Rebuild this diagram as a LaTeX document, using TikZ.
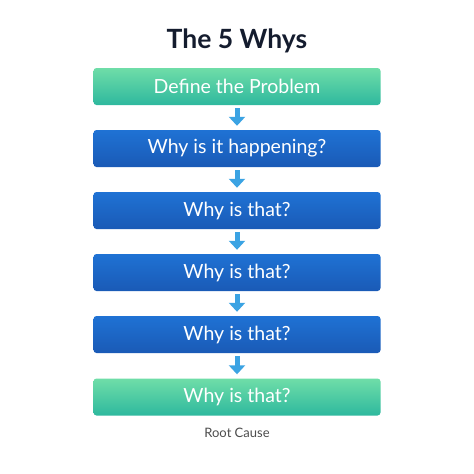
\documentclass[tikz,border=0pt]{standalone}
\usepackage{fontspec}
\setmainfont{Lato}
\usetikzlibrary{arrows.meta,positioning}
\definecolor{gtop}{HTML}{6FDDA8}
\definecolor{gbot}{HTML}{2EB89E}
\definecolor{btop}{HTML}{1F72D4}
\definecolor{bbot}{HTML}{1A5AB6}
\definecolor{arr}{HTML}{3BA3E3}
\definecolor{navy}{HTML}{141C2E}
\begin{document}
\begin{tikzpicture}[x=1pt,y=1pt,
  box/.style={minimum width=287pt,minimum height=37pt,rounded corners=3pt,inner sep=0pt,
    text=white,font=\fontsize{19.5}{22}\selectfont},
  greenbox/.style={box,top color=gtop,bottom color=gbot},
  bluebox/.style={box,top color=btop,bottom color=bbot},
  flow/.style={draw=arr,line width=5pt,-{Triangle[width=16pt,length=9pt]}}]
\useasboundingbox (0,0) rectangle (474,-474);
\node[font=\bfseries\fontsize{26.5}{30}\selectfont,text=navy] (title) at (237,-41) {The 5 Whys};
\node[greenbox] (b1) at (237,-86.5) {Define the Problem};
\node[bluebox] (b2) at (237,-148.5) {Why is it happening?};
\node[bluebox] (b3) at (237,-210.5) {Why is that?};
\node[bluebox] (b4) at (237,-272.5) {Why is that?};
\node[bluebox] (b5) at (237,-334.5) {Why is that?};
\node[greenbox] (b6) at (237,-397) {Why is that?};
\node[font=\fontsize{13}{15}\selectfont,text=black!70] (rc) at (237,-433) {Root Cause};
\foreach \a/\b in {b1/b2,b2/b3,b3/b4,b4/b5,b5/b6}
  \draw[flow] ([yshift=-3pt]\a.south) -- ([yshift=4pt]\b.north);
\end{tikzpicture}
\end{document}
